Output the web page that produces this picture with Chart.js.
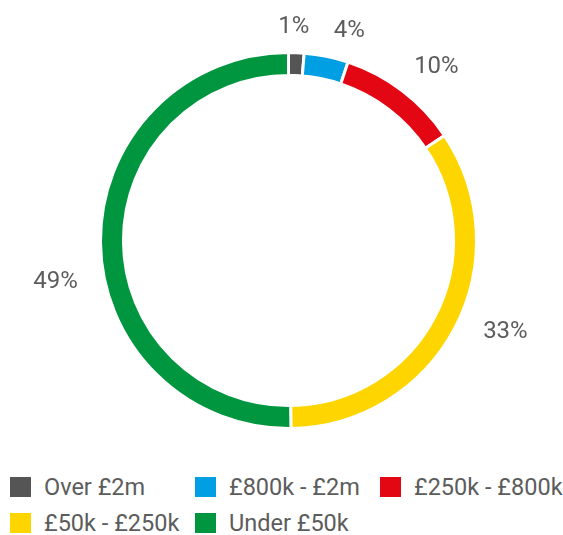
<!DOCTYPE html>
<html>
<head>
<meta charset="utf-8">
<script src="https://cdn.jsdelivr.net/npm/chart.js@4/dist/chart.umd.min.js"></script>
<style>
  body { margin: 0; background: #fff; font-family: Roboto, sans-serif; }
  #wrap { position: relative; width: 563px; height: 535px; }
  #chart1 { position: absolute; left: 0; top: 0; }
  #legend {
    position: absolute; left: 10px; top: 477px;
    display: grid; grid-template-columns: 185px 185px 185px; row-gap: 15.7px;
  }
  .item { display: flex; align-items: center; height: 20px; color: #5c5c5c; font-size: 23.5px; white-space: nowrap; }
  .box { width: 21px; height: 20px; margin-right: 13px; flex: none; }
</style>
</head>
<body>
<div id="wrap">
  <canvas id="chart1" width="563" height="460"></canvas>
  <div id="legend"></div>
</div>
<script>
"use strict";

const labels = ['Over £2m', '£800k - £2m', '£250k - £800k', '£50k - £250k', 'Under £50k'];
const shares = [1.3, 3.7, 10.2, 33.4, 49.0];
const colours = ['#555555', '#009fe3', '#e30613', '#ffd500', '#009640'];

const BORDER = 3;

// draws the percentage next to each slice
const sliceLabels = {
    id: 'sliceLabels',
    afterDatasetsDraw(chart, args, opts) {
        const ctx = chart.ctx;
        const meta = chart.getDatasetMeta(0);
        ctx.save();
        ctx.font = '24px Roboto, sans-serif';
        ctx.fillStyle = '#5c5c5c';
        ctx.textAlign = 'center';
        ctx.textBaseline = 'middle';
        meta.data.forEach((arc, i) => {
            const p = arc.getProps(['x', 'y', 'startAngle', 'endAngle', 'outerRadius'], true);
            const text = Math.round(shares[i]) + '%';
            const hw = ctx.measureText(text).width / 2;
            const a = (p.startAngle + p.endAngle) / 2 + (opts.tweak[i] || 0) * Math.PI / 180;
            const d = p.outerRadius - BORDER / 2 + opts.gap + hw * Math.abs(Math.cos(a));
            ctx.fillText(text, p.x + d * Math.cos(a), p.y + d * Math.sin(a) + 1);
        });
        ctx.restore();
    }
};

const myChart = new Chart(document.getElementById('chart1'), {
    type: 'doughnut',
    data: {
        labels: labels,
        datasets: [{
            data: shares,
            backgroundColor: colours,
            borderColor: '#ffffff',
            borderWidth: BORDER,
        }]
    },
    options: {
        responsive: false,
        animation: false,
        cutout: '87.8%',
        layout: { padding: { left: 99, top: 51, right: 85, bottom: 30 } },
        plugins: {
            legend: { display: false },
            tooltip: { enabled: false },
            sliceLabels: { gap: 28, tweak: [-1, 4.5, 3, -5, -9.5] }
        }
    },
    plugins: [sliceLabels]
});

const legend = document.getElementById('legend');
labels.forEach((name, i) => {
    const item = document.createElement('div');
    item.className = 'item';
    const box = document.createElement('span');
    box.className = 'box';
    box.style.background = colours[i];
    item.appendChild(box);
    item.appendChild(document.createTextNode(name));
    legend.appendChild(item);
});
</script>
</body>
</html>
